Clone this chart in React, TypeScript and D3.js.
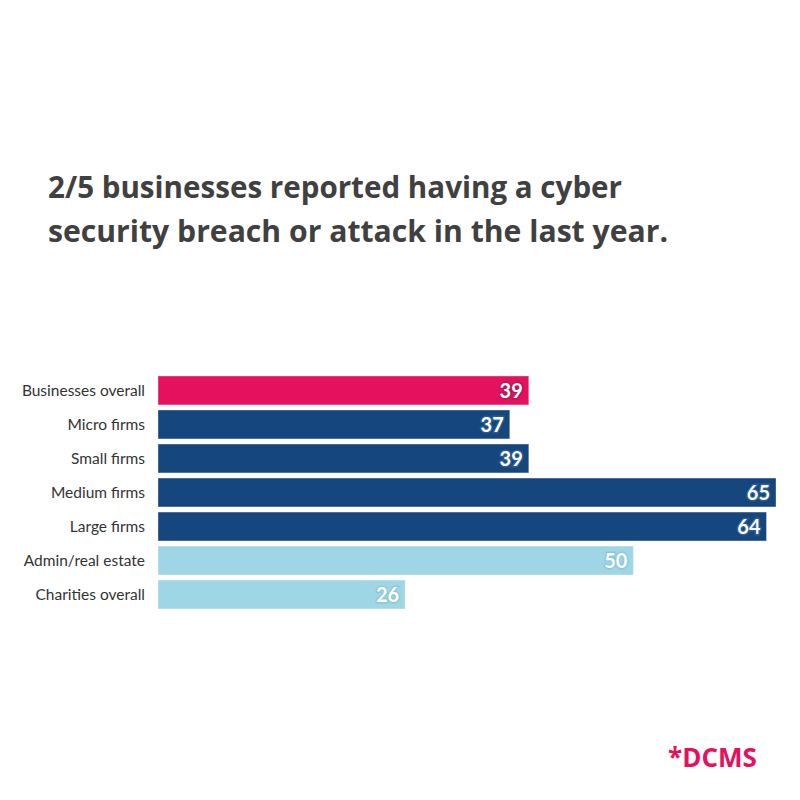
import React from "react";
import * as d3 from "d3";

const width = 800;
const height = 800;
const margin = { top: 376, right: 24, bottom: 190, left: 158 };

const categories = [
  "Businesses overall",
  "Micro firms",
  "Small firms",
  "Medium firms",
  "Large firms",
  "Admin/real estate",
  "Charities overall",
];
const values = [39, 37, 39, 65, 64, 50, 26];
const groups = ["total", "size", "size", "size", "size", "sector", "charity"];

const colors: Record<string, string> = {
  total: "#e5115f",
  size: "#16467e",
  sector: "#9fd6e6",
  charity: "#9fd6e6",
};
const halo: Record<string, string> = {
  total: "#b01a55",
  size: "#2a5a90",
  sector: "#8cc8da",
  charity: "#8cc8da",
};

const titleLines = [
  "2/5 businesses reported having a cyber",
  "security breach or attack in the last year.",
];
const titleWidths = [574, 620];

export default function App() {
  const x = d3.scaleLinear().domain([0, 65]).range([margin.left, 776]);
  const y = d3
    .scaleBand()
    .domain(categories)
    .range([margin.top, margin.top + 34 * categories.length - 5])
    .paddingInner(0.15);

  return (
    <svg width={width} height={height} style={{ display: "block", margin: -8 }}>
      <rect width={width} height={height} fill="#fff" />
      {titleLines.map((t, i) => (
        <text
          key={i}
          x={48}
          y={198 + i * 44}
          fontFamily="Open Sans, sans-serif"
          fontWeight="bold"
          fontSize={31}
          fill="#404040"
          textLength={titleWidths[i]}
          lengthAdjust="spacingAndGlyphs"
        >
          {t}
        </text>
      ))}
      {categories.map((c, i) => {
        const y0 = y(c) as number;
        const g = groups[i];
        return (
          <g key={c}>
            <rect
              x={x(0)}
              y={y0}
              width={x(values[i]) - x(0)}
              height={y.bandwidth()}
              fill={colors[g]}
              stroke="#ffffff"
              strokeOpacity={0.35}
              strokeWidth={1}
            />
            <text
              x={145}
              y={y0 + y.bandwidth() / 2}
              dy="0.35em"
              textAnchor="end"
              fontFamily="Lato, sans-serif"
              fontSize={15.5}
              fill="#333"
            >
              {c}
            </text>
            <text
              x={x(values[i]) - 6}
              y={y0 + y.bandwidth() / 2}
              dy="0.36em"
              textAnchor="end"
              fontFamily="Lato, sans-serif"
              fontWeight="bold"
              fontSize={20}
              fill="#fff"
              stroke={halo[g]}
              strokeWidth={3}
              paintOrder="stroke"
            >
              {values[i]}
            </text>
          </g>
        );
      })}
      <text
        x={668}
        y={767}
        fontFamily="Open Sans, sans-serif"
        fontWeight="bold"
        fontSize={26}
        fill="#e5115f"
      >
        *DCMS
      </text>
    </svg>
  );
}
